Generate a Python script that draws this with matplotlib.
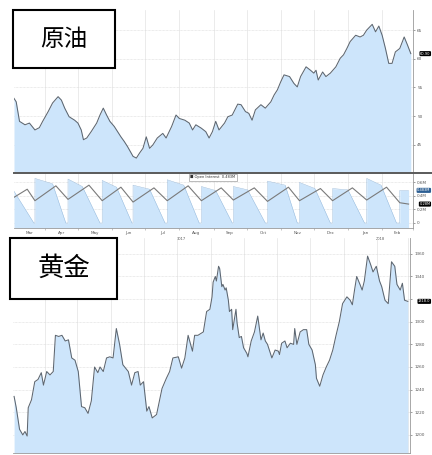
import matplotlib
matplotlib.use("Agg")
import matplotlib.pyplot as plt
import matplotlib.transforms as mt
import pandas as pd
from matplotlib.patches import Rectangle
from matplotlib.lines import Line2D

# ---------------- data (days since 2017-03-04) ----------------
START = pd.Timestamp("2017-03-04")

oil_day = [0, 2, 5, 10, 14, 19, 23, 26, 31, 35, 40, 43, 46, 50, 55, 58, 61, 63, 66, 70,
           75, 78, 81, 84, 87, 91, 94, 97, 100, 103, 108, 111, 114, 117, 120, 123, 126, 130,
           135, 138, 143, 147, 150, 155, 159, 162, 165, 170, 174, 177, 180, 183, 186, 191,
           194, 198, 203, 206, 210, 213, 216, 219, 224, 228, 233, 236, 239, 242, 245, 250,
           254, 257, 260, 265, 269, 272, 274, 276, 280, 283, 287, 292, 296, 299, 302, 305,
           310, 314, 317, 320, 325, 328, 331, 334, 337, 340, 343, 346, 350, 354, 357, 360]
oil_price = [53.1, 52.5, 49.1, 48.5, 48.8, 47.6, 48.0, 49.1, 50.8, 52.3, 53.4, 52.8, 51.4,
             49.9, 49.3, 48.8, 47.6, 45.9, 46.2, 47.3, 48.8, 50.2, 51.4, 50.2, 49.1, 48.2,
             47.3, 46.4, 45.6, 44.7, 43.0, 42.7, 43.6, 44.4, 46.4, 44.4, 45.0, 46.2, 47.0,
             46.2, 48.2, 50.2, 49.6, 49.3, 48.8, 47.6, 48.5, 47.9, 47.3, 46.2, 47.3, 49.1,
             47.6, 48.8, 49.9, 50.2, 52.1, 52.0, 50.8, 50.5, 49.3, 51.1, 52.0, 51.4, 52.5,
             53.7, 54.6, 56.0, 57.2, 56.9, 55.7, 55.1, 56.9, 58.6, 58.0, 57.5, 58.0, 56.3,
             57.7, 56.9, 57.5, 58.6, 60.1, 60.7, 61.8, 63.0, 64.1, 63.8, 64.1, 65.0, 66.0,
             64.7, 65.7, 64.1, 61.8, 59.2, 59.2, 61.2, 61.8, 63.8, 62.4, 60.9]

oi_day = [0, 18, 19, 19, 35, 47, 49, 49, 62, 78, 80, 80, 93, 107, 108, 108, 123, 137,
          139, 139, 154, 168, 170, 170, 183, 198, 199, 199, 212, 228, 230, 230, 246, 257,
          259, 259, 273, 287, 289, 289, 303, 318, 320, 320, 333, 347, 350, 350, 358]
oi_value = [0.47, 0.0, 0.0, 0.66, 0.58, 0.0, 0.0, 0.65, 0.54, 0.0, 0.0, 0.63, 0.53, 0.0,
            0.0, 0.56, 0.50, 0.0, 0.0, 0.64, 0.56, 0.0, 0.0, 0.54, 0.48, 0.0, 0.0, 0.54,
            0.49, 0.0, 0.0, 0.62, 0.56, 0.0, 0.0, 0.60, 0.51, 0.0, 0.0, 0.51, 0.49, 0.0,
            0.0, 0.66, 0.56, 0.0, 0.0, 0.483, 0.483]

oi2_day = [0, 12, 19, 38, 49, 68, 80, 97, 108, 127, 139, 158, 170, 188, 199, 218, 230,
           249, 259, 278, 289, 307, 320, 338, 350, 358]
oi2_value = [0.38, 0.50, 0.33, 0.55, 0.35, 0.56, 0.33, 0.53, 0.31, 0.52, 0.33, 0.55, 0.33,
             0.52, 0.34, 0.52, 0.32, 0.53, 0.33, 0.51, 0.33, 0.52, 0.34, 0.53, 0.30, 0.28]

gold_day = [0, 2, 5, 8, 10, 12, 13, 16, 19, 22, 25, 27, 30, 33, 36, 38, 41, 44, 47, 50,
            53, 56, 59, 62, 65, 68, 71, 74, 77, 79, 82, 85, 88, 91, 94, 97, 100, 105, 108,
            111, 114, 116, 119, 122, 124, 127, 131, 136, 140, 143, 146, 151, 154, 157, 160,
            164, 166, 169, 174, 177, 180, 182, 183, 185, 186, 188, 189, 191, 192, 194, 195,
            197, 198, 200, 201, 204, 205, 207, 209, 211, 214, 215, 218, 221, 224, 226, 227,
            229, 231, 233, 237, 240, 243, 244, 246, 249, 251, 254, 257, 258, 260, 263, 266,
            269, 271, 274, 277, 278, 281, 284, 287, 290, 293, 296, 299, 302, 306, 309, 311,
            313, 315, 318, 320, 322, 325, 328, 330, 333, 336, 338, 341, 344, 347, 350, 352,
            355, 357, 359, 362]
gold_price = [1234, 1224, 1205, 1200, 1203, 1199, 1224, 1231, 1247, 1249, 1255, 1244, 1256,
              1253, 1256, 1288, 1287, 1288, 1283, 1284, 1268, 1266, 1256, 1225, 1224, 1219,
              1230, 1260, 1255, 1260, 1256, 1268, 1269, 1268, 1294, 1280, 1262, 1256, 1244,
              1255, 1256, 1244, 1247, 1221, 1225, 1215, 1218, 1241, 1250, 1256, 1268, 1269,
              1259, 1268, 1288, 1274, 1288, 1288, 1291, 1309, 1311, 1322, 1335, 1340, 1336,
              1349, 1347, 1331, 1333, 1328, 1330, 1319, 1309, 1311, 1293, 1311, 1299, 1286,
              1287, 1277, 1272, 1269, 1283, 1291, 1305, 1291, 1284, 1290, 1283, 1280, 1268,
              1275, 1274, 1271, 1281, 1283, 1277, 1281, 1280, 1294, 1280, 1291, 1293, 1293,
              1280, 1275, 1262, 1250, 1243, 1253, 1260, 1266, 1275, 1288, 1300, 1316, 1322,
              1319, 1315, 1328, 1340, 1333, 1328, 1336, 1358, 1350, 1344, 1349, 1336, 1331,
              1319, 1316, 1353, 1349, 1333, 1328, 1334, 1319, 1318]

oil_ticks = [45, 50, 55, 60, 65]
oil_tick_labels = ["45", "50", "55", "60", "65"]
oi_ticks = [0, 0.2, 0.4, 0.6]
oi_tick_labels = ["0", "0.2M", "0.4M", "0.6M"]
gold_ticks = [1200, 1220, 1240, 1260, 1280, 1300, 1320, 1340, 1360]
gold_tick_labels = ["1200", "1220", "1240", "1260", "1280", "1300", "", "1340", "1360"]
oil_title = "原油"
gold_title = "黄金"
legend_text = "Open Interest  0.483M"

# ---------------- helpers ----------------
W, H = 432, 455
FILL = "#cde5fb"
LINE = "#5d6670"
GRID = "#d9d9d9"
TXT = "#555555"
CJK = ["Noto Sans CJK SC", "DejaVu Sans"]


def box(x0, y0, x1, y1):
    return [x0 / W, 1 - y1 / H, (x1 - x0) / W, (y1 - y0) / H]


def d(ts):
    return (pd.Timestamp(ts) - START).days


month_starts = [d(t) for t in pd.date_range("2017-04-01", "2018-03-01", freq="MS")]


def style(ax, yticks, xlim, ylim, labels):
    ax.set_xlim(*xlim)
    ax.set_ylim(*ylim)
    ax.yaxis.tick_right()
    ax.set_yticks(yticks)
    ax.set_yticklabels(labels)
    ax.tick_params(axis="y", labelsize=3, colors=TXT, length=1.5, width=0.4, pad=1.5)
    ax.set_xticks(month_starts)
    ax.tick_params(axis="x", length=0, labelbottom=False)
    for s in ("top", "left"):
        ax.spines[s].set_visible(False)
    for s in ("right", "bottom"):
        ax.spines[s].set_color("#9a9a9a")
        ax.spines[s].set_linewidth(0.6)
    ax.grid(axis="y", color=GRID, linestyle=(0, (1, 1)), linewidth=0.5)
    ax.grid(axis="x", color="#e3e3e3", linestyle="-", linewidth=0.5)
    ax.set_axisbelow(True)
    ax.patch.set_alpha(0)


def tag_at(ax, y, text, fc):
    tr = mt.blended_transform_factory(fig.transFigure, ax.transData)
    ax.text(430.5 / W, y, text, transform=tr, fontsize=2.6, color="white",
            va="center", ha="right", clip_on=False, zorder=10,
            bbox=dict(boxstyle="round,pad=0.15,rounding_size=0.3", fc=fc, ec="none"))


fig = plt.figure(figsize=(W / 100, H / 100), dpi=100)
fig.patch.set_facecolor("white")

# ---------------- crude oil ----------------
ax_oil = fig.add_axes(box(14, 10, 413, 173))
style(ax_oil, oil_ticks, (0, 361), (40.1, 68.5), oil_tick_labels)
ax_oil.fill_between(oil_day, oil_price, 40.1, color=FILL, lw=0)
ax_oil.plot(oil_day, oil_price, color=LINE, lw=0.75)
ax_oil.spines["bottom"].set_visible(False)
tag_at(ax_oil, oil_price[-1], f"{oil_price[-1]:.2f}", "black")

# ---------------- open interest sub-panel ----------------
ax_oi = fig.add_axes(box(14, 173, 413, 228))
style(ax_oi, oi_ticks, (0, 361), (-0.074, 0.74), oi_tick_labels)
ax_oi.fill_between(oi_day, oi_value, -0.074, color=FILL, lw=0)
ax_oi.plot(oi_day, oi_value, color="#8fb3d6", lw=0.3)
ax_oi.plot(oi2_day, oi2_value, color="#7a7a7a", lw=0.8)
tag_at(ax_oi, oi_value[-1], f"{oi_value[-1]:.3f}M", "#2d5f93")
tag_at(ax_oi, oi2_value[-1], f"{oi2_value[-1]:.2f}M", "black")
ax_oi.text(0.442, 0.955, "\u25a0 " + legend_text, transform=ax_oi.transAxes, fontsize=2.6,
           color="#333333", va="top", ha="left",
           bbox=dict(boxstyle="square,pad=0.3", fc="white", ec="#888888", lw=0.4))

# month labels and year labels
months = pd.date_range("2017-03-01", "2018-02-01", freq="MS")
for m in months:
    end = m + pd.offsets.MonthBegin(1)
    lo, hi = max(d(m), 0), min(d(end), 361)
    ax_oi.text((lo + hi) / 2, -0.06, m.strftime("%b"), transform=ax_oi.get_xaxis_transform(),
               fontsize=3, color=TXT, ha="center", va="top")
for yr, (a, b) in {"2017": (0, d("2018-01-01")), "2018": (d("2018-01-01"), 361)}.items():
    ax_oi.text((a + b) / 2, -0.17, yr, transform=ax_oi.get_xaxis_transform(),
               fontsize=2.6, color=TXT, ha="center", va="top")
ax_oi.tick_params(axis="x", length=1.5, width=0.4, colors="#9a9a9a")

# thick separator between price and open-interest panels
fig.add_artist(Line2D([14 / W, 1.0], [1 - 173 / H] * 2, color="#5a5a5a", lw=1.4))

# ---------------- gold ----------------
ax_gold = fig.add_axes(box(13, 238, 410, 453))
style(ax_gold, gold_ticks, (-1, 364), (1184, 1374), gold_tick_labels)
ax_gold.fill_between(gold_day, gold_price, 1184, color=FILL, lw=0)
ax_gold.plot(gold_day, gold_price, color=LINE, lw=0.75)
tag_at(ax_gold, gold_price[-1], f"{gold_price[-1]:.1f}", "black")

# ---------------- title boxes ----------------
for (x0, y0, x1, y1), title, size in [((13, 10, 115, 68), oil_title, 17),
                                      ((10, 238, 117, 299), gold_title, 19)]:
    fig.add_artist(Rectangle((x0 / W, 1 - y1 / H), (x1 - x0) / W, (y1 - y0) / H,
                             transform=fig.transFigure, fc="white", ec="black", lw=1.5,
                             zorder=5))
    fig.text((x0 + x1) / 2 / W, 1 - (y0 + y1) / 2 / H, title, family=CJK, fontsize=size,
             fontweight="light", ha="center", va="center", color="black", zorder=6)

fig.savefig("out.png", dpi=100, facecolor="white")
